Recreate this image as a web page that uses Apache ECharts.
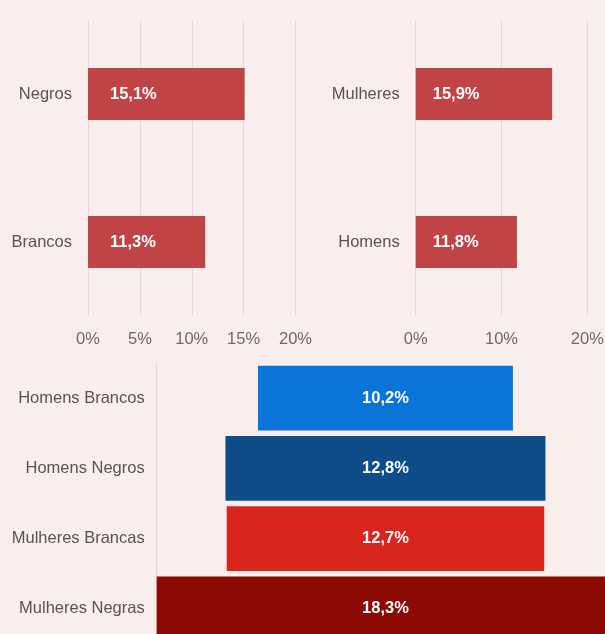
<!DOCTYPE html>
<html>
<head>
<meta charset="utf-8">
<script src="https://cdn.jsdelivr.net/npm/echarts@6/dist/echarts.min.js"></script>
<style>
  html, body { margin: 0; padding: 0; background: #f8eeeb; }
  #chart { width: 605px; height: 634px; }
</style>
</head>
<body>
<div id="chart"></div>
<script>
// Desemprego por raça, por sexo e por sexo e raça
var racaCategorias = ['Negros', 'Brancos'];
var racaValores = [15.1, 11.3];
var racaTicks = [0, 5, 10, 15, 20];

var sexoCategorias = ['Mulheres', 'Homens'];
var sexoValores = [15.9, 11.8];
var sexoTicks = [0, 10, 20];

var grupoCategorias = ['Homens Brancos', 'Homens Negros', 'Mulheres Brancas', 'Mulheres Negras'];
var grupoValores = [10.2, 12.8, 12.7, 18.3];
var grupoCores = ['#0b74d9', '#0f4c8a', '#d8261f', '#8b0a04'];

var FONT = 'Liberation Sans, Arial, sans-serif';
var FONT_SIZE = 16.5;
var BAR_RED = '#c04446';
var GRID_LINE = '#e2d9d6';

function pct(v) {
  return v.toFixed(1).replace('.', ',') + '%';
}

function valueAxis(gridIndex, ticks) {
  return {
    type: 'value',
    gridIndex: gridIndex,
    min: ticks[0],
    max: ticks[ticks.length - 1],
    interval: ticks[1] - ticks[0],
    axisLine: { show: false },
    axisTick: { show: false },
    splitLine: { show: true, lineStyle: { color: GRID_LINE, width: 1 } },
    axisLabel: {
      color: '#6b6b6b', fontSize: FONT_SIZE, fontFamily: FONT, margin: 15,
      formatter: function (v) { return v + '%'; }
    }
  };
}

function categoryAxis(gridIndex, cats, margin) {
  return {
    type: 'category',
    gridIndex: gridIndex,
    data: cats,
    inverse: true,
    axisLine: { show: false },
    axisTick: { show: false },
    axisLabel: { color: '#555555', fontSize: FONT_SIZE, fontFamily: FONT, margin: margin }
  };
}

function barLabel(distance) {
  return {
    show: true,
    position: 'insideLeft',
    distance: distance,
    color: '#ffffff',
    fontWeight: 'bold',
    fontSize: FONT_SIZE,
    fontFamily: FONT,
    formatter: function (p) { return pct(p.value); }
  };
}

var grupoMax = Math.max.apply(null, grupoValores);

var chart = echarts.init(document.getElementById('chart'), null, { renderer: 'canvas' });

chart.setOption({
  backgroundColor: '#f8eeeb',
  animation: false,
  grid: [
    { left: 88, top: 20, width: 207.5, height: 296, outerBoundsMode: 'none' },
    { left: 415.7, top: 20, width: 171.6, height: 296, outerBoundsMode: 'none' },
    // the widest bar spans the whole value range and runs past the right edge
    { left: 156.7, top: 363, width: 25 * grupoMax, height: 281, outerBoundsMode: 'none' }
  ],
  xAxis: [
    valueAxis(0, racaTicks),
    valueAxis(1, sexoTicks),
    {
      type: 'value',
      gridIndex: 2,
      min: -grupoMax / 2,
      max: grupoMax / 2,
      show: false
    }
  ],
  yAxis: [
    categoryAxis(0, racaCategorias, 16),
    categoryAxis(1, sexoCategorias, 16),
    {
      type: 'category',
      gridIndex: 2,
      data: grupoCategorias,
      inverse: true,
      axisLine: { show: true, onZero: false, lineStyle: { color: GRID_LINE, width: 1 } },
      axisTick: { show: false },
      axisLabel: { color: '#555555', fontSize: FONT_SIZE, fontFamily: FONT, margin: 12 }
    }
  ],
  series: [
    {
      type: 'bar',
      xAxisIndex: 0,
      yAxisIndex: 0,
      data: racaValores,
      barWidth: 52,
      itemStyle: { color: BAR_RED },
      label: barLabel(22)
    },
    {
      type: 'bar',
      xAxisIndex: 1,
      yAxisIndex: 1,
      data: sexoValores,
      barWidth: 52,
      itemStyle: { color: BAR_RED },
      label: barLabel(17)
    },
    {
      type: 'custom',
      xAxisIndex: 2,
      yAxisIndex: 2,
      clip: false,
      data: grupoValores.map(function (v, i) { return [v, i]; }),
      encode: { x: 0, y: 1 },
      renderItem: function (params, api) {
        var v = api.value(0);
        var idx = api.value(1);
        var a = api.coord([-v / 2, idx]);
        var b = api.coord([v / 2, idx]);
        var h = api.size([0, 1])[1] * 0.925;
        return {
          type: 'group',
          children: [
            {
              type: 'rect',
              shape: { x: a[0], y: a[1] - h / 2, width: b[0] - a[0], height: h },
              style: { fill: grupoCores[params.dataIndex] }
            },
            {
              type: 'text',
              x: (a[0] + b[0]) / 2,
              y: a[1],
              style: {
                text: pct(v),
                fill: '#ffffff',
                font: 'bold ' + FONT_SIZE + 'px ' + FONT,
                align: 'center',
                verticalAlign: 'middle'
              }
            }
          ]
        };
      }
    }
  ]
});
</script>
</body>
</html>
